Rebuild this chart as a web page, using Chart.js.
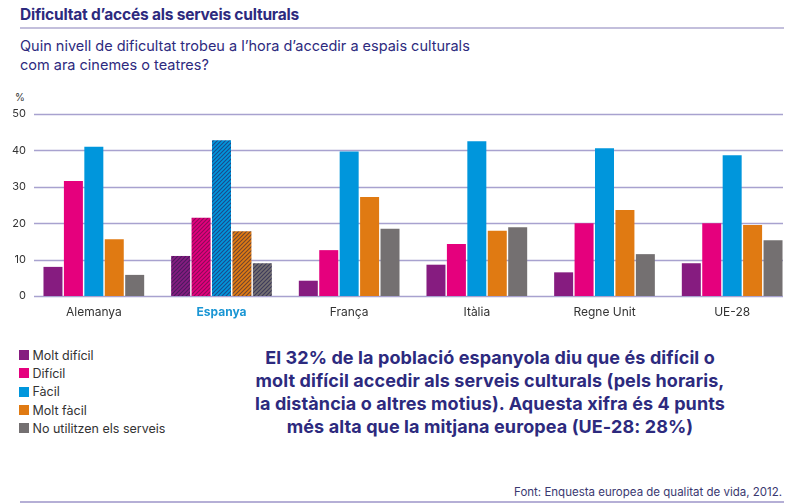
<!DOCTYPE html>
<html>
<head>
<meta charset="utf-8">
<script src="https://cdn.jsdelivr.net/npm/chart.js@4.4.1/dist/chart.umd.min.js"></script>
<style>
  html, body { margin:0; padding:0; background:#fff; }
  body { width:800px; height:503px; position:relative; overflow:hidden; font-family:"Inter","Roboto",sans-serif; }
  .abs { position:absolute; }
  #title { left:20px; top:5px; font-size:15.5px; font-weight:700; color:#2d2a7e; letter-spacing:-0.2px; }
  #rule1 { left:20px; top:27px; width:764px; height:1.5px; background:#c3bfdc; }
  #sub { left:20px; top:36px; font-size:14.5px; line-height:19px; color:#2d2a7e; }
  #pct { left:15px; top:91px; font-size:10px; color:#333; }
  #chartwrap { left:0; top:90px; width:800px; height:240px; }
  #legend { left:19px; top:346px; font-size:12.5px; color:#333; }
  .li { height:18.3px; display:flex; align-items:center; }
  .sw { width:10px; height:10px; margin-right:3.5px; }
  #callout { left:240px; top:346px; width:500px; text-align:center; font-size:18px; line-height:23px; font-weight:700; color:#2d2a7e; letter-spacing:0.1px; }
  #source { right:18px; top:485px; font-size:11.5px; color:#3a3870; }
  #rule2 { left:20px; top:501px; width:764px; height:1.5px; background:#b5afd6; }
</style>
</head>
<body>
<div id="title" class="abs">Dificultat d’accés als serveis culturals</div>
<div id="rule1" class="abs"></div>
<div id="sub" class="abs">Quin nivell de dificultat trobeu a l’hora d’accedir a espais culturals<br>com ara cinemes o teatres?</div>
<div id="pct" class="abs">%</div>
<div id="chartwrap" class="abs"><canvas id="c" width="800" height="240"></canvas></div>
<div id="legend" class="abs"></div>
<div id="callout" class="abs">El 32% de la població espanyola diu que és difícil o<br>molt difícil accedir als serveis culturals (pels horaris,<br>la distància o altres motius). Aquesta xifra és 4 punts<br>més alta que la mitjana europea (UE-28: 28%)</div>
<div id="source" class="abs">Font: Enquesta europea de qualitat de vida, 2012.</div>
<div id="rule2" class="abs"></div>
<script>
const categories = ["Alemanya", "Espanya", "França", "Itàlia", "Regne Unit", "UE-28"];
const seriesNames = ["Molt difícil", "Difícil", "Fàcil", "Molt fàcil", "No utilitzen els serveis"];
const moltDificil = [8.0, 11.0, 4.2, 8.6, 6.5, 9.0];
const dificil     = [31.6, 21.5, 12.6, 14.3, 20.0, 20.0];
const facil       = [41.0, 42.8, 39.7, 42.5, 40.6, 38.7];
const moltFacil   = [15.6, 17.8, 27.2, 17.9, 23.6, 19.5];
const noUtilitzen = [5.8, 9.0, 18.5, 18.9, 11.5, 15.3];
const yTicks = [0, 10, 20, 30, 40, 50];
const highlightIndex = 1;

const colors = ["#861c80", "#e5007d", "#0096dc", "#e07a12", "#747071"];
const stripeColors = ["#4a1a5e", "#8a0a5a", "#1a4a8a", "#6e4630", "#3c3a5a"];

function hatch(base, stripe) {
  const s = 4;
  const c = document.createElement("canvas");
  c.width = s; c.height = s;
  const g = c.getContext("2d");
  g.fillStyle = base; g.fillRect(0, 0, s, s);
  g.strokeStyle = stripe; g.lineWidth = 1.1;
  g.beginPath();
  g.moveTo(-1, s + 1); g.lineTo(s + 1, -1);
  g.moveTo(-1, 1); g.lineTo(1, -1);
  g.moveTo(s - 1, s + 1); g.lineTo(s + 1, s - 1);
  g.stroke();
  return document.getElementById("c").getContext("2d").createPattern(c, "repeat");
}

const values = [moltDificil, dificil, facil, moltFacil, noUtilitzen];
const datasets = values.map((v, i) => {
  const pat = hatch(colors[i], stripeColors[i]);
  return {
    label: seriesNames[i],
    data: v,
    backgroundColor: categories.map((_, k) => k === highlightIndex ? pat : colors[i]),
    borderWidth: 0,
    categoryPercentage: 0.8,
    barPercentage: 0.93
  };
});

const gridPlugin = {
  id: "customGrid",
  beforeDatasetsDraw(chart) {
    const y = chart.scales.y;
    const ctx = chart.ctx;
    ctx.save();
    ctx.strokeStyle = "#a8a2cf";
    ctx.lineWidth = 1.4;
    yTicks.forEach(t => {
      const py = Math.round(y.getPixelForValue(t)) + 0.5;
      ctx.beginPath();
      ctx.moveTo(34, py);
      ctx.lineTo(783, py);
      ctx.stroke();
    });
    ctx.restore();
  }
};

new Chart(document.getElementById("c"), {
  type: "bar",
  data: { labels: categories, datasets },
  plugins: [gridPlugin],
  options: {
    responsive: false,
    animation: false,
    layout: { padding: { top: 24, right: 4, left: 0, bottom: 0 } },
    plugins: { legend: { display: false }, tooltip: { enabled: false } },
    scales: {
      x: {
        grid: { display: false, drawTicks: false },
        border: { display: false },
        ticks: {
          padding: 9,
          color: (ctx) => ctx.index === highlightIndex ? "#1a96d4" : "#333333",
          font: (ctx) => ({ family: "Inter, Roboto, sans-serif", size: 12, weight: ctx.index === highlightIndex ? "bold" : "normal" })
        },
        afterFit(s) { s.height = 34; }
      },
      y: {
        min: 0, max: 50,
        grid: { display: false, drawTicks: false },
        border: { display: false },
        ticks: {
          stepSize: 10,
          padding: 4,
          color: "#333333",
          font: { family: "Inter, Roboto, sans-serif", size: 11 }
        },
        afterFit(s) { s.width = 30; }
      }
    }
  }
});

const leg = document.getElementById("legend");
seriesNames.forEach((n, i) => {
  const d = document.createElement("div");
  d.className = "li";
  d.innerHTML = '<span class="sw" style="background:' + colors[i] + '"></span><span>' + n + '</span>';
  leg.appendChild(d);
});
</script>
</body>
</html>
